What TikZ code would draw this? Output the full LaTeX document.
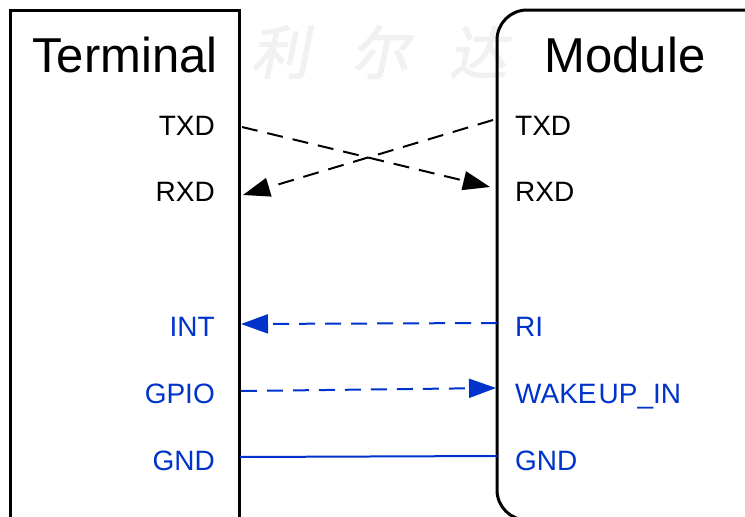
\documentclass[tikz,border=0pt]{standalone}
\usepackage{fontspec}
\setmainfont{Liberation Sans}
\newfontfamily\cjk[FakeSlant=0.2,FakeBold=2]{Noto Sans CJK SC}
\usetikzlibrary{arrows.meta}
\definecolor{lblue}{RGB}{0,51,204}
\definecolor{wmark}{RGB}{241,241,241}
\tikzset{
  boxline/.style={line width=3pt},
  title/.style={inner sep=0pt, font=\fontsize{49}{52}\selectfont},
  lbl/.style={inner sep=0pt, font=\fontsize{28}{32}\selectfont},
  lleft/.style={lbl, anchor=base east},
  lright/.style={lbl, anchor=base west},
  sig/.style={line width=2pt, dash pattern=on 16pt off 10pt, -{Triangle[length=27pt,width=19pt]}},
  wm/.style={inner sep=0pt, text=wmark, font=\fontsize{58}{60}\cjk}
}
\begin{document}
\begin{tikzpicture}[x=1pt,y=-1pt]
\useasboundingbox (0,0) rectangle (745,517);
\fill[white] (0,0) rectangle (745,517);
% watermark
\node[wm] (w1) at (280,52) {利};
\node[wm] (w2) at (380,52) {尔};
\node[wm] (w3) at (478,52) {达};
\begin{scope}
\clip (0,0) rectangle (745,517);
\draw[boxline] (10,10) rectangle (239,540);
\draw[boxline, rounded corners=30pt] (497,10) rectangle (775,520);
\end{scope}
\node[title, anchor=base] (term) at (125,72) {Terminal};
\node[title, anchor=base] (mod) at (625,72) {Module};
% left labels
\node[lleft] (ltxd) at (215,135) {TXD};
\node[lleft] (lrxd) at (215,201) {RXD};
\node[lleft, text=lblue] (lint) at (215,336) {INT};
\node[lleft, text=lblue] (lgpio) at (215,403) {GPIO};
\node[lleft, text=lblue] (lgnd) at (215,470) {GND};
% right labels
\node[lright] (rtxd) at (515,135) {TXD};
\node[lright] (rrxd) at (515,201) {RXD};
\node[lright, text=lblue] (rri) at (515,336) {RI};
\node[lright, text=lblue] (rwake) at (515,403) {WAKE{\kern2pt}UP\_IN};
\node[lright, text=lblue] (rgnd) at (515,470) {GND};
% pin coordinates
\coordinate (a1) at (242,127);
\coordinate (a2) at (490,187);
\coordinate (b1) at (493,120);
\coordinate (b2) at (243,195);
\coordinate (c1) at (497,323);
\coordinate (c2) at (241,324);
\coordinate (d1) at (241,391);
\coordinate (d2) at (496,388);
\coordinate (e1) at (240,457);
\coordinate (e2) at (497,456);
\draw[sig] (a1) -- (a2);
\draw[sig] (b1) -- (b2);
\draw[sig, lblue] (c1) -- (c2);
\draw[sig, lblue] (d1) -- (d2);
\draw[line width=2pt, lblue] (e1) -- (e2);
\end{tikzpicture}
\end{document}
